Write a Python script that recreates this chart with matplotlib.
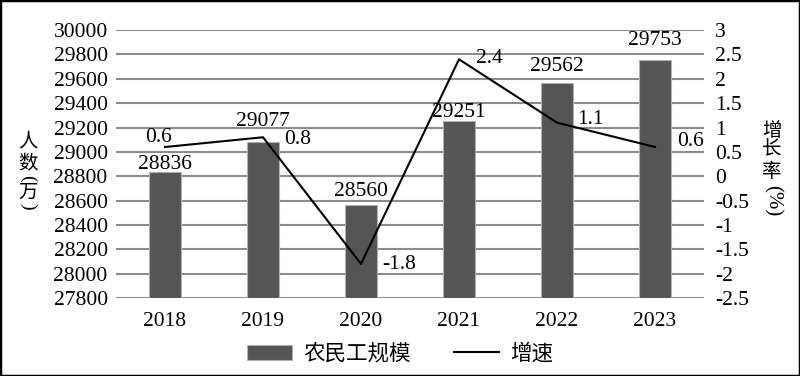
import matplotlib.pyplot as plt
import numpy as np
from matplotlib.patches import Rectangle

plt.rcParams['font.family'] = ['Liberation Serif', 'Noto Sans CJK SC', 'DejaVu Sans']

years = ['2018', '2019', '2020', '2021', '2022', '2023']
workers = [28836, 29077, 28560, 29251, 29562, 29753]
growth = [0.6, 0.8, -1.8, 2.4, 1.1, 0.6]
growth_labels = ['0.6', '0.8', '-1.8', '2.4', '1.1', '0.6']

bar_color = '#555555'
grid_color = '#8c8c8c'
fs = 15.5
cjk = ['Noto Sans CJK SC']

fig = plt.figure(figsize=(8, 3.76), dpi=100)
ax = fig.add_axes([0.145, 0.2074, 0.735, 0.7126])
x = np.arange(len(years))

ax.set_ylim(27800, 30000)
ax.set_yticks(np.arange(27800, 30001, 200))
ax.yaxis.grid(True, color=grid_color, linewidth=1.5)
ax.set_axisbelow(True)
ax.set_xlim(-0.5, len(years) - 0.5)
bars = ax.bar(x, workers, width=0.33, color=bar_color, edgecolor='#b0b0b0',
              linewidth=0.8, zorder=2)

# gap (pixels) between bar top and its value label
bar_gap = [3, 16, 9, 4, 12, 15]
for xi, v, g in zip(x, workers, bar_gap):
    ax.annotate(str(v), (xi, v), xytext=(0, g), textcoords='offset pixels',
                ha='center', va='baseline', fontsize=fs)
ax.set_xticks(x)
ax.set_xticklabels(years)
for s in ax.spines.values():
    s.set_visible(False)
ax.tick_params(axis='y', length=0, labelsize=fs, pad=6)
ax.tick_params(axis='x', length=0, labelsize=fs, pad=10)

ax2 = ax.twinx()
ax2.set_ylim(-2.5, 3)
ticks2 = np.arange(-2.5, 3.01, 0.5)
ax2.set_yticks(ticks2)
ax2.set_yticklabels(['%g' % t for t in ticks2])
for s in ax2.spines.values():
    s.set_visible(False)
ax2.tick_params(length=0, labelsize=fs, pad=8)
line, = ax2.plot(x, growth, color='black', linewidth=1.5, zorder=3)

# growth label offsets in pixels (dx, dy, ha, va)
offsets = [(-6, 5, 'center', 'baseline'), (21, -2, 'left', 'center'),
           (21, -1, 'left', 'center'), (17, 1, 'left', 'center'),
           (20, 3, 'left', 'center'), (22, 5, 'left', 'center')]
for xi, v, lab, (dx, dy, ha, va) in zip(x, growth, growth_labels, offsets):
    ax2.annotate(lab, (xi, v), xytext=(dx, dy), textcoords='offset pixels',
                 ha=ha, va=va, fontsize=fs)

H = 376.0
def fy(py):
    return 1 - py / H

# left axis title, vertical
fig.text(28 / 800, fy(141), '人', ha='center', va='center', fontsize=14, family=cjk)
fig.text(28 / 800, fy(164), '数', ha='center', va='center', fontsize=14, family=cjk)
fig.text(28 / 800, fy(178), '(', ha='center', va='center', fontsize=14, rotation=-90)
fig.text(28 / 800, fy(192), '万', ha='center', va='center', fontsize=14, family=cjk)
fig.text(28 / 800, fy(206), ')', ha='center', va='center', fontsize=14, rotation=-90)

# right axis title, vertical
fig.text(772 / 800, fy(130), '增', ha='center', va='center', fontsize=14, family=cjk)
fig.text(772 / 800, fy(149), '长', ha='center', va='center', fontsize=14, family=cjk)
fig.text(772 / 800, fy(172), '率', ha='center', va='center', fontsize=14, family=cjk)
fig.text(772 / 800, fy(201), '(%)', ha='center', va='center', fontsize=15, rotation=-90)

fig.legend(handles=[bars, line], labels=['农民工规模', '增速'], loc='center',
           bbox_to_anchor=(0.5, fy(354)), ncol=2, frameon=False,
           prop={'family': cjk, 'size': 15.5},
           handlelength=2.1, handleheight=0.7, columnspacing=2.0, handletextpad=0.5)

fig.patches.append(Rectangle((0, 0), 1, 1, transform=fig.transFigure, fill=False,
                             edgecolor='black', linewidth=2.5))

fig.savefig('out.png', dpi=100)
